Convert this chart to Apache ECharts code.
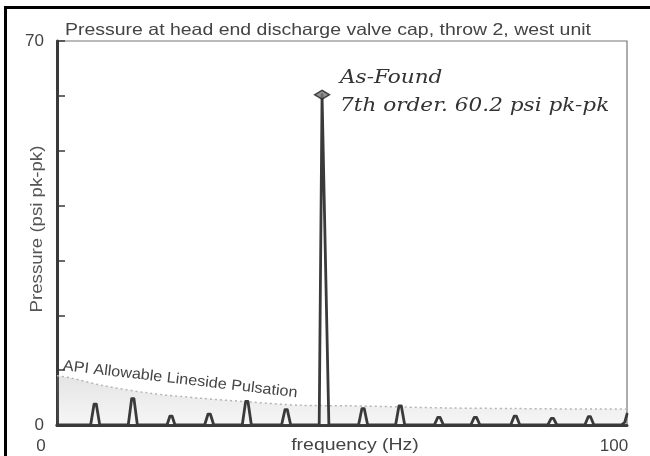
<!DOCTYPE html>
<html><head><meta charset="utf-8">
<script src="https://cdn.jsdelivr.net/npm/echarts@6/dist/echarts.min.js"></script>
<style>html,body{margin:0;padding:0;background:#fff}#c{width:650px;height:456px}</style>
</head><body><div id="c"></div>
<script>
// ---- text ----
const chartTitle = 'Pressure at head end discharge valve cap, throw 2, west unit';
const xName = 'frequency (Hz)';
const yName = 'Pressure (psi pk-pk)';
const xTickLabels = ['0', '100'];
const yTickLabels = ['0', '70'];
const apiText = 'API Allowable Lineside Pulsation';
const noteLines = ['As-Found', '7th order. 60.2 psi pk-pk'];

// ---- measured spectrum (Hz, psi pk-pk) ----
const freq = [0, 5.9, 6.5, 6.9, 7.5, 12.5, 13.1, 13.5, 14.1, 19.3, 19.8, 20.2, 20.7,
  25.9, 26.5, 26.9, 27.5, 32.5, 33.1, 33.5, 34.1, 39.4, 40.0, 40.4, 41.0,
  46.0, 46.5, 47.7, 52.9, 53.5, 53.9, 54.5, 59.4, 60.0, 60.4, 61.0,
  66.2, 66.8, 67.2, 67.8, 72.6, 73.2, 73.6, 74.2, 79.6, 80.2, 80.6, 81.2,
  86.1, 86.7, 87.1, 87.7, 92.6, 93.2, 93.6, 94.2, 99.0, 99.6, 100];
const pressure = [0, 0, 3.8, 3.8, 0, 0, 4.8, 4.8, 0, 0, 1.6, 1.6, 0,
  0, 2.0, 2.0, 0, 0, 4.3, 4.3, 0, 0, 2.8, 2.8, 0,
  0, 60.2, 0, 0, 3.0, 3.0, 0, 0, 3.5, 3.5, 0,
  0, 1.4, 1.4, 0, 0, 1.4, 1.4, 0, 0, 1.6, 1.6, 0,
  0, 1.2, 1.2, 0, 0, 1.5, 1.5, 0, 0, 0.5, 2.0];

// ---- API allowable lineside pulsation ----
const apiFreq = [0, 2.3, 8, 16.3, 25, 33.9, 42.6, 51.4, 60, 68.9, 80, 95.3, 100];
const apiLimit = [9.0, 8.6, 7.2, 5.8, 4.9, 4.2, 3.6, 3.5, 3.3, 3.1, 3.0, 2.9, 2.9];

// ---- highlighted peak ----
const peakFreq = [46.5];
const peakValue = [60.2];

const chart = echarts.init(document.getElementById('c'), null, {renderer: 'canvas'});
const ink = '#3a3a3a';
const sans = 'Liberation Sans';
chart.setOption({
  backgroundColor: '#fff',
  animation: false,
  grid: {left: 57, right: 23, top: 41, bottom: 31, show: true, borderColor: '#777', borderWidth: 1.2,
    containLabel: false, outerBoundsMode: 'none'},
  xAxis: {
    type: 'value', min: 0, max: 100, interval: 100,
    axisLine: {lineStyle: {color: ink, width: 3}},
    axisTick: {show: false},
    splitLine: {show: false},
    axisLabel: {
      margin: 13, fontFamily: sans, fontSize: 17, color: '#444',
      formatter: v => v === 0 ? '{l|' + xTickLabels[0] + '}' : '{r|' + xTickLabels[1] + '}',
      rich: {
        l: {fontFamily: sans, fontSize: 17, color: '#444', padding: [0, 32, 0, 0]},
        r: {fontFamily: sans, fontSize: 17, color: '#444', padding: [0, 26, 0, 0]}
      }
    }
  },
  yAxis: {
    type: 'value', min: 0, max: 70, interval: 10,
    axisLine: {show: true, lineStyle: {color: ink, width: 3}},
    axisTick: {show: true, inside: true, length: 8, lineStyle: {color: ink, width: 1.5}},
    splitLine: {show: false},
    axisLabel: {
      margin: 13, fontFamily: sans, fontSize: 17, color: '#444',
      formatter: v => v === 0 ? yTickLabels[0] : (v === 70 ? yTickLabels[1] : '')
    }
  },
  series: [
    {
      type: 'line', data: apiFreq.map((f, i) => [f, apiLimit[i]]), smooth: 0.3,
      symbol: 'none', z: 1,
      lineStyle: {color: '#b5b5b5', width: 1.5, type: [2, 3]},
      areaStyle: {color: new echarts.graphic.LinearGradient(0, 0, 0, 1, [
        {offset: 0, color: 'rgba(150,150,150,0.36)'},
        {offset: 1, color: 'rgba(150,150,150,0.12)'}
      ])}
    },
    {
      type: 'line', data: freq.map((f, i) => [f, pressure[i]]),
      symbol: 'none', z: 3,
      lineStyle: {color: ink, width: 2.8, join: 'round', cap: 'round'}
    },
    {
      type: 'scatter', data: peakFreq.map((f, i) => [f, peakValue[i]]),
      symbol: 'diamond', symbolSize: [15, 9], z: 4,
      itemStyle: {color: '#777', borderColor: '#222', borderWidth: 1.5}
    }
  ],
  graphic: [
    {type: 'line', shape: {x1: 4, y1: 7.5, x2: 650, y2: 7.5}, style: {stroke: '#000', lineWidth: 3}},
    {type: 'line', shape: {x1: 5.5, y1: 6, x2: 5.5, y2: 456}, style: {stroke: '#000', lineWidth: 3}},
    {type: 'text', x: 65, y: 39, scaleX: 1.18,
      style: {text: chartTitle, fontFamily: sans, fontSize: 16.5, fill: '#444', textVerticalAlign: 'bottom'}},
    {type: 'text', x: 355, y: 445, scaleX: 1.18,
      style: {text: xName, fontFamily: sans, fontSize: 16.5, fill: '#444', textAlign: 'center', textVerticalAlign: 'middle'}},
    {type: 'text', x: 37, y: 229, rotation: Math.PI / 2, scaleX: 1.13,
      style: {text: yName, fontFamily: sans, fontSize: 16.5, fill: '#555', textAlign: 'center', textVerticalAlign: 'middle'}},
    {type: 'text', x: 63, y: 366, rotation: -0.115, scaleX: 1.08,
      style: {text: apiText, fontFamily: sans, fontSize: 15, fill: '#444', textVerticalAlign: 'middle'}},
    {type: 'text', x: 340, y: 78, scaleX: 1.2,
      style: {text: noteLines[0], fontFamily: 'DejaVu Serif', fontStyle: 'italic', fontSize: 18, fill: '#333', textVerticalAlign: 'middle'}},
    {type: 'text', x: 340, y: 106, scaleX: 1.2,
      style: {text: noteLines[1], fontFamily: 'DejaVu Serif', fontStyle: 'italic', fontSize: 18, fill: '#333', textVerticalAlign: 'middle'}}
  ]
});
</script></body></html>
